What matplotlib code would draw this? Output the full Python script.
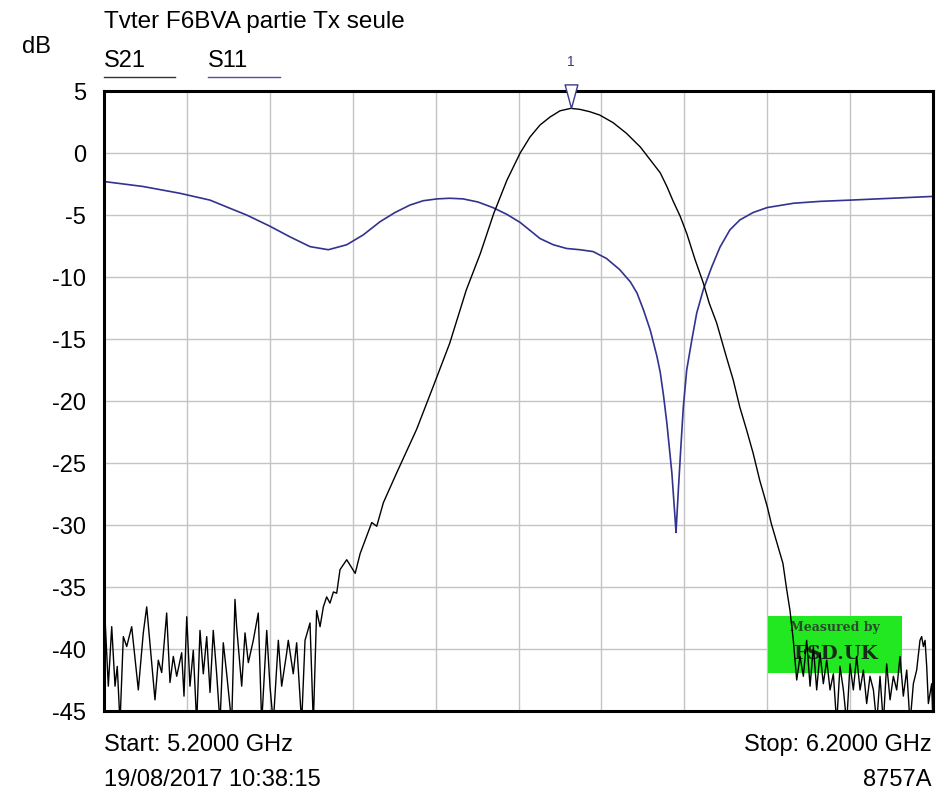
import matplotlib
matplotlib.use("Agg")
import matplotlib.pyplot as plt
import numpy as np
from matplotlib.path import Path

plt.rcParams['font.family'] = ['Liberation Sans', 'DejaVu Sans']

title = "Tvter F6BVA partie Tx seule"
start_label = "Start: 5.2000 GHz"
stop_label = "Stop: 6.2000 GHz"
date_label = "19/08/2017 10:38:15"
instr_label = "8757A"
f_start, f_stop = 5.2, 6.2
y_ticks = [5, 0, -5, -10, -15, -20, -25, -30, -35, -40, -45]

# S21 trace (GHz, dB) ; values below -45 are clipped by the screen
s21_f = [5.2000, 5.2006, 5.2012, 5.2052, 5.2093, 5.2133, 5.2160, 5.2193, 5.2233, 5.2274,
         5.2334, 5.2414, 5.2474, 5.2515, 5.2615, 5.2655, 5.2696, 5.2756, 5.2796, 5.2836,
         5.2877, 5.2937, 5.2965, 5.2998, 5.3037, 5.3077, 5.3118, 5.3158, 5.3198, 5.3239,
         5.3279, 5.3318, 5.3359, 5.3399, 5.3439, 5.3480, 5.3540, 5.3580, 5.3600, 5.3661,
         5.3701, 5.3741, 5.3801, 5.3861, 5.3902, 5.3963, 5.4002, 5.4042, 5.4103, 5.4143,
         5.4204, 5.4223, 5.4283, 5.4324, 5.4384, 5.4425, 5.4485, 5.4525, 5.4565, 5.4606,
         5.4646, 5.4686, 5.4726, 5.4767, 5.4807, 5.4847, 5.4928, 5.5030, 5.5090, 5.5230,
         5.5290, 5.5370, 5.5530, 5.5770, 5.5970, 5.6170, 5.6370, 5.6540, 5.6700, 5.6860,
         5.7020, 5.7140, 5.7260, 5.7380, 5.7500, 5.7630, 5.7740, 5.7860, 5.7980, 5.8140,
         5.8300, 5.8470, 5.8590, 5.8710, 5.8790, 5.8860, 5.8950, 5.9030, 5.9130, 5.9230,
         5.9300, 5.9390, 5.9510, 5.9590, 5.9670, 5.9750, 5.9830, 5.9910, 6.0000, 6.0050,
         6.0120, 6.0190, 6.0235, 6.0275, 6.0315, 6.0356, 6.0396, 6.0436,
         6.0476, 6.0517, 6.0557, 6.0597, 6.0637, 6.0677, 6.0718, 6.0758, 6.0798, 6.0838,
         6.0878, 6.0919, 6.0959, 6.0999, 6.1039, 6.1079, 6.1120, 6.1160, 6.1200, 6.1240,
         6.1281, 6.1321, 6.1361, 6.1401, 6.1441, 6.1482, 6.1522, 6.1562, 6.1602, 6.1642,
         6.1683, 6.1723, 6.1763, 6.1803, 6.1843, 6.1863, 6.1884, 6.1904, 6.1924, 6.1944,
         6.1984, 6.2000]
s21_db = [-38.0, -44.5, -37.5, -43.0, -38.2, -43.0, -41.4, -46.0, -39.0, -39.8,
          -38.2, -43.3, -38.7, -36.6, -44.1, -40.9, -41.9, -37.1, -42.7, -40.6,
          -42.2, -40.3, -43.8, -37.4, -43.0, -40.1, -46.0, -38.5, -42.0, -39.0,
          -43.5, -38.5, -42.0, -46.0, -39.5, -42.0, -46.0, -36.0, -38.2, -43.0,
          -38.7, -41.1, -39.3, -37.1, -46.0, -38.5, -43.0, -46.0, -39.3, -43.0,
          -40.3, -39.3, -42.0, -39.5, -46.0, -39.3, -37.9, -46.0, -36.9, -38.2,
          -36.6, -35.8, -36.3, -35.4, -35.5, -33.6, -32.8, -33.9, -32.3, -29.8,
          -30.1, -28.2, -25.8, -22.3, -18.85, -15.35, -11.05, -8.1, -4.9, -2.2,
          0.0, 1.3, 2.26, 2.9, 3.4, 3.6, 3.52, 3.33, 3.06, 2.45,
          1.6, 0.48, -0.56, -1.6, -2.7, -3.8, -5.1, -6.5, -8.6, -10.5,
          -12.1, -13.7, -16.5, -18.3, -20.5, -22.3, -24.2, -26.4, -28.5, -29.9,
          -31.5, -33.1, -35.2, -36.9, -39.3, -42.5, -40.6, -42.2,
          -39.3, -43.0, -39.8, -43.3, -40.3, -42.8, -40.9, -43.3, -42.0, -46.0,
          -41.4, -43.3, -46.0, -41.2, -43.3, -40.6, -43.3, -41.7, -44.4, -42.2,
          -43.3, -46.0, -42.2, -46.0, -41.2, -44.1, -42.2, -43.3, -40.6, -43.8,
          -41.7, -46.0, -42.8, -41.7, -39.3, -39.0, -39.8, -39.3, -41.4, -44.4,
          -42.8, -46.0]

# S11 trace (GHz, dB)
s11_f = [5.200, 5.247, 5.2917, 5.3279, 5.352, 5.372, 5.400, 5.424, 5.4485, 5.4706,
         5.4928, 5.5128, 5.533, 5.551, 5.569, 5.585, 5.602, 5.617, 5.633, 5.651,
         5.669, 5.686, 5.702, 5.726, 5.742, 5.758, 5.774, 5.790, 5.806, 5.822,
         5.835, 5.843, 5.851, 5.859, 5.867, 5.871, 5.875, 5.879, 5.885, 5.889,
         5.890, 5.8928, 5.8956, 5.8988, 5.9029, 5.909, 5.915, 5.923, 5.933, 5.943,
         5.955, 5.967, 5.983, 6.000, 6.032, 6.064, 6.100, 6.150, 6.200]
s11_db = [-2.3, -2.7, -3.25, -3.8, -4.46, -5.0, -5.9, -6.75, -7.55, -7.8,
          -7.4, -6.6, -5.54, -4.8, -4.2, -3.85, -3.7, -3.65, -3.7, -3.95,
          -4.4, -4.95, -5.6, -6.9, -7.4, -7.7, -7.8, -7.95, -8.5, -9.4,
          -10.4, -11.3, -12.7, -14.3, -16.4, -17.7, -19.6, -21.8, -25.8, -29.6,
          -30.6, -27.2, -24.0, -20.5, -17.5, -15.1, -12.9, -11.0, -9.2, -7.6,
          -6.2, -5.4, -4.8, -4.4, -4.05, -3.9, -3.8, -3.65, -3.5]

marker_freq = 5.763
marker_db = 3.6

S21_COLOR = "#000000"
S11_COLOR = "#32328f"
FS = 17

fig = plt.figure(figsize=(9.39, 7.92), dpi=100)
ax = fig.add_axes([104/939, 1 - 711/792, (933-104)/939, (711-91)/792])
ax.set_xlim(f_start, f_stop)
ax.set_ylim(-45, 5)
ax.set_xticks(np.linspace(f_start, f_stop, 11))
ax.set_yticks(y_ticks)
ax.set_xticklabels([])
ax.set_yticklabels([str(v) for v in y_ticks], fontsize=FS)
ax.tick_params(length=0, pad=13)
ax.grid(True, color="#c4c4c4", linewidth=1.0)
ax.set_axisbelow(True)
for s in ax.spines.values():
    s.set_linewidth(2.2)
    s.set_color("black")
    s.set_zorder(6)

ax.plot(s11_f, s11_db, color=S11_COLOR, linewidth=1.2, zorder=4)
ax.plot(s21_f, s21_db, color=S21_COLOR, linewidth=1.0, zorder=4)

# marker triangle (apex at the marker point)
tri = Path([(-0.27, 1.0), (0.27, 1.0), (0.0, 0.0), (-0.27, 1.0)],
           [Path.MOVETO, Path.LINETO, Path.LINETO, Path.CLOSEPOLY])
ax.plot([marker_freq], [marker_db], marker=tri, markersize=34, markerfacecolor="white",
        markeredgecolor="#3a3a8a", markeredgewidth=1.0, linestyle="none",
        clip_on=False, zorder=7)
ax.annotate("1", xy=(marker_freq, 5), xytext=(0, 21), textcoords="offset points",
            ha="center", va="center", fontsize=10, color="#3a3a8a", annotation_clip=False)

# green watermark box
ax.axvspan(6.0015, 6.1626, ymin=(-41.9 + 45) / 50, ymax=(-37.3 + 45) / 50,
           color="#22e822", zorder=2, linewidth=0)
ax.text(6.082, -38.3, "Measured by", ha="center", va="center", fontsize=9,
        family="DejaVu Serif", fontweight="bold", color="#2a4a2a", zorder=3)
ax.text(6.082, -40.4, "FSD.UK", ha="center", va="center", fontsize=14,
        family="DejaVu Serif", fontweight="bold", color="#1a2a1a", zorder=3)

# texts around
fig.text(104/939, 1 - 22/792, title, ha="left", va="center", fontsize=FS + 0.5)
fig.text(22/939, 1 - 47/792, "dB", ha="left", va="center", fontsize=FS)
fig.text(104/939, 1 - 61/792, "S21", ha="left", va="center", fontsize=FS)
fig.text(208/939, 1 - 61/792, "S11", ha="left", va="center", fontsize=FS)
fig.add_artist(plt.Line2D([104/939, 175/939], [1 - 77/792, 1 - 77/792], color="#333333", linewidth=1.0))
fig.add_artist(plt.Line2D([208/939, 280/939], [1 - 77/792, 1 - 77/792], color="#5050a0", linewidth=1.0))
fig.text(104/939, 1 - 745/792, start_label, ha="left", va="center", fontsize=FS)
fig.text(104/939, 1 - 780/792, date_label, ha="left", va="center", fontsize=FS)
fig.text(932/939, 1 - 745/792, stop_label, ha="right", va="center", fontsize=FS)
fig.text(932/939, 1 - 780/792, instr_label, ha="right", va="center", fontsize=FS)

fig.savefig("out.png", dpi=100)
